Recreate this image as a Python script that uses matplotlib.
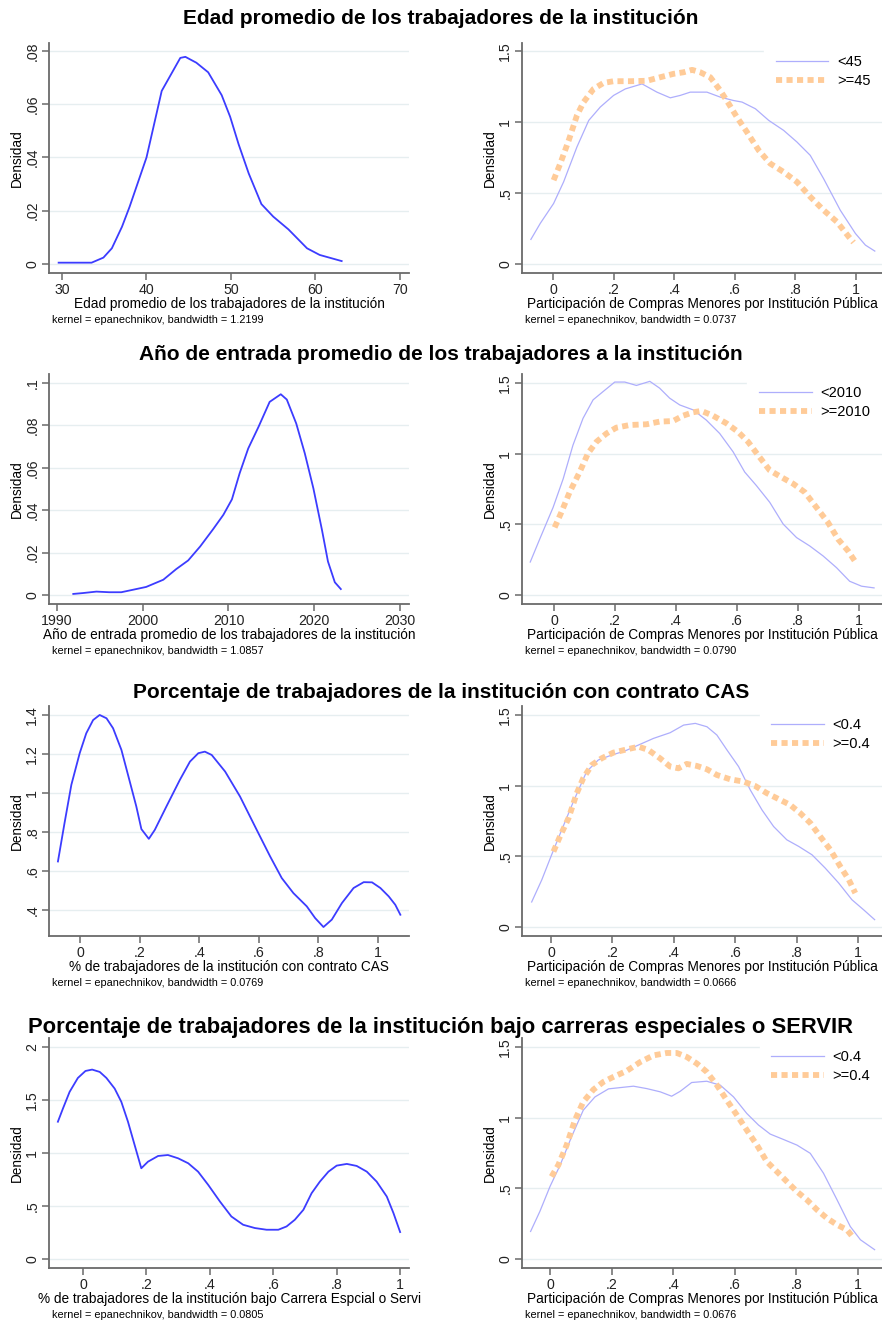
import matplotlib
matplotlib.use("Agg")
import matplotlib.pyplot as plt

plt.rcParams['font.family'] = ['Liberation Sans', 'DejaVu Sans']

W, H = 882, 1325

# ---------------- data ----------------
titles = [
    "Edad promedio de los trabajadores de la institución",
    "Año de entrada promedio de los trabajadores a la institución",
    "Porcentaje de trabajadores de la institución con contrato CAS",
    "Porcentaje de trabajadores de la institución bajo carreras especiales o SERVIR",
]

# Row 1 left: age density
edad_x = [29.6, 33.5, 34.9, 35.9, 37.1, 38.0, 40.0, 41.8, 44.0, 44.6, 45.9, 47.3, 48.9,
          49.9, 50.9, 52.1, 53.6, 55.0, 56.8, 59.0, 60.5, 63.1]
edad_y = [0.0005, 0.0005, 0.0024, 0.0059, 0.014, 0.0215, 0.040, 0.065, 0.0774, 0.0778,
          0.0756, 0.072, 0.0634, 0.0553, 0.045, 0.034, 0.0225, 0.0178, 0.013, 0.0059,
          0.0034, 0.0011]

# Row 1 right: compras menores by age group
c1a_x = [-0.073, -0.042, 0.002, 0.035, 0.079, 0.118, 0.156, 0.200, 0.239, 0.294, 0.343,
         0.387, 0.420, 0.453, 0.508, 0.552, 0.596, 0.624, 0.668, 0.712, 0.761, 0.805,
         0.849, 0.893, 0.948, 0.998, 1.031, 1.062]
c1a_y = [0.173, 0.286, 0.426, 0.578, 0.824, 1.011, 1.105, 1.187, 1.233, 1.268, 1.21,
         1.170, 1.187, 1.21, 1.21, 1.175, 1.151, 1.14, 1.093, 1.011, 0.941, 0.859,
         0.765, 0.601, 0.379, 0.215, 0.133, 0.091]
c1b_x = [0.002, 0.024, 0.052, 0.079, 0.101, 0.134, 0.167, 0.200, 0.255, 0.310, 0.354,
         0.398, 0.431, 0.459, 0.486, 0.519, 0.552, 0.580, 0.607, 0.640, 0.679, 0.717,
         0.761, 0.805, 0.849, 0.893, 0.937, 0.976, 0.992]
c1b_y = [0.59, 0.707, 0.871, 1.046, 1.14, 1.233, 1.275, 1.287, 1.287, 1.29, 1.315,
         1.339, 1.35, 1.367, 1.35, 1.315, 1.222, 1.128, 1.034, 0.929, 0.800, 0.707,
         0.648, 0.578, 0.473, 0.379, 0.297, 0.192, 0.152]

# Row 2 left: entry year density
anio_x = [1991.9, 1993.0, 1994.6, 1996.1, 1997.5, 1998.9, 2000.4, 2002.4, 2003.9, 2005.3,
          2006.7, 2008.2, 2009.4, 2010.4, 2011.3, 2012.3, 2013.5, 2014.8, 2016.1, 2016.8,
          2017.9, 2018.9, 2019.9, 2020.9, 2021.6, 2022.4, 2023.1]
anio_y = [0.0005, 0.0009, 0.0016, 0.0013, 0.0013, 0.0025, 0.0038, 0.0072, 0.0122, 0.0163,
          0.0229, 0.031, 0.0378, 0.0451, 0.0574, 0.0691, 0.0793, 0.0911, 0.0947, 0.0922,
          0.0809, 0.0668, 0.0503, 0.0307, 0.0158, 0.006, 0.0028]

# Row 2 right: compras menores by entry year
c2a_x = [-0.078, -0.047, -0.003, 0.030, 0.062, 0.095, 0.128, 0.161, 0.199, 0.232, 0.270,
         0.314, 0.346, 0.379, 0.412, 0.456, 0.499, 0.543, 0.587, 0.625, 0.663, 0.707,
         0.751, 0.795, 0.838, 0.882, 0.926, 0.969, 1.008, 1.049]
c2a_y = [0.233, 0.395, 0.620, 0.822, 1.060, 1.250, 1.381, 1.440, 1.507, 1.507, 1.483,
         1.512, 1.464, 1.393, 1.345, 1.310, 1.238, 1.143, 1.013, 0.870, 0.775, 0.656,
         0.502, 0.406, 0.347, 0.276, 0.193, 0.097, 0.062, 0.050]
c2b_x = [0.002, 0.024, 0.051, 0.084, 0.111, 0.139, 0.172, 0.204, 0.248, 0.303, 0.346,
         0.390, 0.423, 0.456, 0.483, 0.521, 0.565, 0.603, 0.636, 0.669, 0.707, 0.745,
         0.784, 0.822, 0.860, 0.898, 0.931, 0.964, 0.986]
c2b_y = [0.478, 0.585, 0.727, 0.870, 1.001, 1.084, 1.143, 1.184, 1.203, 1.208, 1.227,
         1.231, 1.269, 1.293, 1.303, 1.269, 1.215, 1.155, 1.084, 0.989, 0.882, 0.834,
         0.787, 0.727, 0.620, 0.513, 0.395, 0.311, 0.240]

# Row 3 left: CAS share density
cas_x = [-0.074, -0.052, -0.029, -0.001, 0.021, 0.044, 0.066, 0.089, 0.111, 0.139, 0.167,
         0.189, 0.206, 0.231, 0.251, 0.290, 0.335, 0.369, 0.397, 0.419, 0.442, 0.487,
         0.537, 0.593, 0.638, 0.677, 0.716, 0.761, 0.789, 0.817, 0.845, 0.879, 0.918,
         0.952, 0.980, 1.008, 1.036, 1.058, 1.075]
cas_y = [0.649, 0.845, 1.042, 1.204, 1.306, 1.374, 1.400, 1.383, 1.332, 1.221, 1.059,
         0.931, 0.815, 0.765, 0.811, 0.931, 1.067, 1.161, 1.204, 1.212, 1.195, 1.110,
         0.982, 0.811, 0.675, 0.564, 0.487, 0.419, 0.359, 0.313, 0.351, 0.436, 0.513,
         0.543, 0.542, 0.513, 0.470, 0.427, 0.376]

# Row 3 right: compras menores by CAS share
c3a_x = [-0.063, -0.030, 0.002, 0.035, 0.073, 0.116, 0.154, 0.198, 0.241, 0.285, 0.334,
         0.388, 0.432, 0.470, 0.508, 0.540, 0.573, 0.611, 0.649, 0.687, 0.725, 0.768,
         0.807, 0.850, 0.893, 0.937, 0.980, 1.018, 1.054]
c3a_y = [0.177, 0.334, 0.511, 0.688, 0.888, 1.100, 1.182, 1.217, 1.246, 1.288, 1.335,
         1.375, 1.429, 1.441, 1.417, 1.359, 1.253, 1.135, 0.970, 0.829, 0.711, 0.617,
         0.570, 0.511, 0.417, 0.311, 0.193, 0.122, 0.052]
c3b_x = [0.008, 0.029, 0.057, 0.084, 0.105, 0.133, 0.165, 0.203, 0.247, 0.285, 0.317,
         0.355, 0.388, 0.415, 0.442, 0.475, 0.508, 0.540, 0.584, 0.627, 0.665, 0.703,
         0.747, 0.779, 0.812, 0.845, 0.877, 0.910, 0.942, 0.970, 0.991]
c3b_y = [0.534, 0.640, 0.770, 0.947, 1.053, 1.147, 1.194, 1.234, 1.257, 1.276, 1.253,
         1.194, 1.135, 1.123, 1.154, 1.140, 1.116, 1.076, 1.045, 1.029, 0.998, 0.947,
         0.899, 0.864, 0.805, 0.735, 0.640, 0.546, 0.429, 0.334, 0.240]

# Row 4 left: special careers / SERVIR share density
serv_x = [-0.079, -0.063, -0.042, -0.016, 0.008, 0.029, 0.053, 0.074, 0.100, 0.121, 0.142,
          0.163, 0.184, 0.205, 0.237, 0.268, 0.300, 0.332, 0.363, 0.395, 0.432, 0.468,
          0.505, 0.542, 0.579, 0.616, 0.642, 0.668, 0.695, 0.721, 0.747, 0.774, 0.800,
          0.832, 0.863, 0.895, 0.926, 0.958, 0.979, 1.000]
serv_y = [1.295, 1.420, 1.577, 1.708, 1.774, 1.787, 1.765, 1.708, 1.608, 1.483, 1.295,
          1.075, 0.856, 0.918, 0.972, 0.981, 0.950, 0.903, 0.824, 0.699, 0.542, 0.401,
          0.323, 0.292, 0.276, 0.276, 0.307, 0.370, 0.464, 0.621, 0.730, 0.824, 0.881,
          0.897, 0.878, 0.824, 0.730, 0.589, 0.433, 0.254]

# Row 4 right: compras menores by SERVIR share
c4a_x = [-0.063, -0.033, 0.000, 0.033, 0.070, 0.108, 0.146, 0.190, 0.228, 0.271, 0.314,
         0.358, 0.395, 0.423, 0.460, 0.509, 0.553, 0.596, 0.639, 0.677, 0.715, 0.758,
         0.802, 0.845, 0.888, 0.932, 0.975, 1.008, 1.054]
c4a_y = [0.195, 0.336, 0.513, 0.665, 0.865, 1.053, 1.147, 1.204, 1.213, 1.223, 1.206,
         1.183, 1.152, 1.187, 1.249, 1.258, 1.230, 1.147, 1.030, 0.948, 0.884, 0.846,
         0.806, 0.748, 0.607, 0.419, 0.230, 0.136, 0.066]
c4b_x = [0.005, 0.027, 0.054, 0.081, 0.108, 0.141, 0.173, 0.206, 0.249, 0.293, 0.336,
         0.379, 0.412, 0.444, 0.477, 0.509, 0.542, 0.574, 0.607, 0.639, 0.672, 0.704,
         0.737, 0.769, 0.802, 0.834, 0.867, 0.899, 0.932, 0.964, 0.986]
c4b_y = [0.583, 0.665, 0.806, 0.983, 1.112, 1.199, 1.253, 1.289, 1.331, 1.394, 1.441,
         1.458, 1.458, 1.430, 1.383, 1.324, 1.230, 1.124, 1.018, 0.912, 0.806, 0.689,
         0.618, 0.548, 0.477, 0.419, 0.348, 0.289, 0.242, 0.207, 0.148]

left_xlabels = [
    "Edad promedio de los trabajadores de la institución",
    "Año de entrada promedio de los trabajadores de la institución",
    "% de trabajadores de la institución con contrato CAS",
    "% de trabajadores de la institución bajo Carrera Espcial o Servi",
]
right_xlabel = "Participación de Compras Menores por Institución Pública"

left_bw = ["1.2199", "1.0857", "0.0769", "0.0805"]
right_bw = ["0.0737", "0.0790", "0.0666", "0.0676"]

legend_labels = [("<45", ">=45"), ("<2010", ">=2010"), ("<0.4", ">=0.4"), ("<0.4", ">=0.4")]

left_xticks = [[30, 40, 50, 60, 70], [1990, 2000, 2010, 2020, 2030],
               [0, 0.2, 0.4, 0.6, 0.8, 1.0], [0, 0.2, 0.4, 0.6, 0.8, 1.0]]
left_xticklabels = [["30", "40", "50", "60", "70"], ["1990", "2000", "2010", "2020", "2030"],
                    ["0", ".2", ".4", ".6", ".8", "1"], ["0", ".2", ".4", ".6", ".8", "1"]]
left_yticks = [[0, 0.02, 0.04, 0.06, 0.08], [0, 0.02, 0.04, 0.06, 0.08, 0.1],
               [0.4, 0.6, 0.8, 1.0, 1.2, 1.4], [0, 0.5, 1.0, 1.5, 2.0]]
left_yticklabels = [["0", ".02", ".04", ".06", ".08"], ["0", ".02", ".04", ".06", ".08", ".1"],
                    [".4", ".6", ".8", "1", "1.2", "1.4"], ["0", ".5", "1", "1.5", "2"]]
right_xticks = [0, 0.2, 0.4, 0.6, 0.8, 1.0]
right_xticklabels = ["0", ".2", ".4", ".6", ".8", "1"]
right_yticks = [0, 0.5, 1.0, 1.5]
right_yticklabels = ["0", ".5", "1", "1.5"]

left_series = [(edad_x, edad_y), (anio_x, anio_y), (cas_x, cas_y), (serv_x, serv_y)]
right_series = [((c1a_x, c1a_y), (c1b_x, c1b_y)), ((c2a_x, c2a_y), (c2b_x, c2b_y)),
                ((c3a_x, c3a_y), (c3b_x, c3b_y)), ((c4a_x, c4a_y), (c4b_x, c4b_y))]

# ---------------- layout (pixels) ----------------
left_lims = [((28.46, 71.07), (-0.00338, 0.083)),
             ((1989.07, 2031.05), (-0.00425, 0.10425)),
             ((-0.104, 1.104), (0.267, 1.446)),
             ((-0.107, 1.028), (-0.085, 2.085))]
right_lims = [((-0.1023, 1.0858), (-0.0634, 1.556)),
              ((-0.105, 1.075), (-0.064, 1.564)),
              ((-0.0945, 1.078), (-0.0637, 1.564)),
              ((-0.0909, 1.078), (-0.0637, 1.564))]
row_top = [43, 374, 706, 1038]
row_title_y = [19, 354, 693, 1027]
title_size = [15, 15, 15, 15.8]
ax_h = 230
left_x0, right_x0, ax_w = 49, 522, 360

BLUE = "#3c3cff"
LIGHT = "#aeaefc"
ORANGE = "#ffcb98"
GRID = "#e6eef0"
AXC = "#6a6a6a"
LABEL_FS = 9.85


def style_axes(ax):
    for s in ("top", "right"):
        ax.spines[s].set_visible(False)
    for s in ("left", "bottom"):
        ax.spines[s].set_color(AXC)
        ax.spines[s].set_linewidth(1.3)
    ax.tick_params(axis="both", colors="#222222", labelsize=10.2, length=5,
                   width=1.1, color=AXC, pad=2)
    ax.tick_params(axis="y", labelrotation=90)
    for lab in ax.get_yticklabels():
        lab.set_va("center")
    ax.grid(axis="y", color=GRID, linewidth=1.0)
    ax.set_axisbelow(True)
    ax.set_ylabel("Densidad", fontsize=LABEL_FS, labelpad=1)


fig = plt.figure(figsize=(W / 100, H / 100), dpi=100)

for r in range(4):
    top = row_top[r]
    b = 1 - (top + ax_h) / H
    h = ax_h / H
    fig.text(0.5, 1 - row_title_y[r] / H, titles[r], ha="center", va="center",
             fontsize=title_size[r], fontweight="bold")

    # left panel: single density
    ax = fig.add_axes([left_x0 / W, b, ax_w / W, h])
    x, y = left_series[r]
    ax.plot(x, y, color=BLUE, linewidth=1.3, solid_joinstyle="round")
    ax.set_xlim(*left_lims[r][0])
    ax.set_ylim(*left_lims[r][1])
    ax.set_xticks(left_xticks[r])
    ax.set_xticklabels(left_xticklabels[r])
    ax.set_yticks(left_yticks[r])
    ax.set_yticklabels(left_yticklabels[r])
    style_axes(ax)
    ax.set_xlabel(left_xlabels[r], fontsize=LABEL_FS, labelpad=0)
    fig.text(52 / W, 1 - (top + ax_h + 47) / H,
             "kernel = epanechnikov, bandwidth = " + left_bw[r],
             fontsize=7.8, ha="left", va="center")

    # right panel: two group densities
    ax = fig.add_axes([right_x0 / W, b, ax_w / W, h])
    (xa, ya), (xb, yb) = right_series[r]
    ax.plot(xa, ya, color=LIGHT, linewidth=0.9, label=legend_labels[r][0])
    ax.plot(xb, yb, color=ORANGE, linewidth=4.2, linestyle=(0, (1.05, 0.75)),
            dash_capstyle="butt", label=legend_labels[r][1])
    ax.set_xlim(*right_lims[r][0])
    ax.set_ylim(*right_lims[r][1])
    ax.set_xticks(right_xticks)
    ax.set_xticklabels(right_xticklabels)
    ax.set_yticks(right_yticks)
    ax.set_yticklabels(right_yticklabels)
    style_axes(ax)
    ax.set_xlabel(right_xlabel, fontsize=LABEL_FS, labelpad=0)
    leg = ax.legend(loc="upper right", bbox_to_anchor=(1.0, 1.0), frameon=True,
                    fontsize=10.5, handlelength=3.6, handletextpad=0.6,
                    borderpad=0.8, labelspacing=0.35, fancybox=False,
                    borderaxespad=0.0)
    leg.get_frame().set_facecolor("white")
    leg.get_frame().set_edgecolor("white")
    leg.get_frame().set_alpha(1.0)
    fig.text(525 / W, 1 - (top + ax_h + 47) / H,
             "kernel = epanechnikov, bandwidth = " + right_bw[r],
             fontsize=7.8, ha="left", va="center")

fig.savefig("out.png", dpi=100, facecolor="white")
